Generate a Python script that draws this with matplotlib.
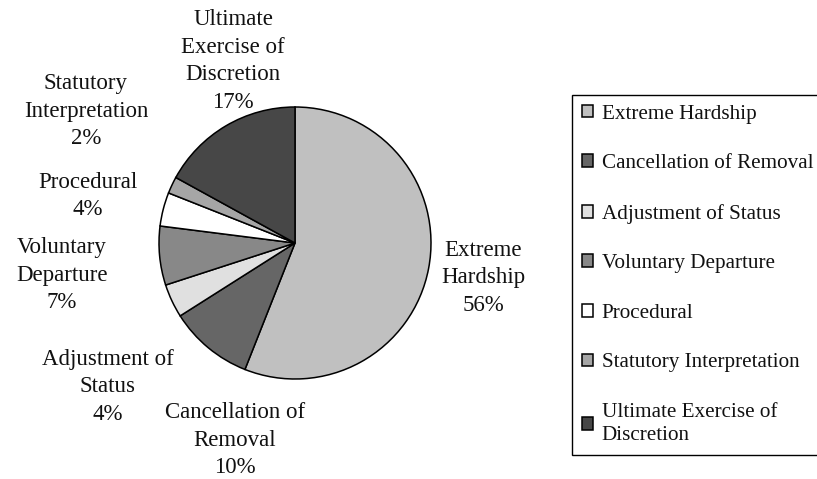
import numpy as np
import matplotlib
matplotlib.use('Agg')
import matplotlib.pyplot as plt

plt.rcParams['font.family'] = ['Liberation Serif', 'DejaVu Serif']

categories = ['Extreme Hardship', 'Cancellation of Removal', 'Adjustment of Status',
              'Voluntary Departure', 'Procedural', 'Statutory Interpretation',
              'Ultimate Exercise of\nDiscretion']
pie_labels = ['Extreme\nHardship', 'Cancellation of\nRemoval', 'Adjustment of\nStatus',
              'Voluntary\nDeparture', 'Procedural', 'Statutory\nInterpretation',
              'Ultimate\nExercise of\nDiscretion']
values = [56, 10, 4, 7, 4, 2, 17]
colors = ['#c0c0c0', '#666666', '#e0e0e0', '#888888', '#ffffff', '#a6a6a6', '#474747']

# label centres in pixels (x from left, y from top)
label_pos = [(483, 278), (235, 440), (108, 387), (62, 275), (88, 196), (86, 111), (233, 61)]

W, H = 817, 479
fig = plt.figure(figsize=(W / 100, H / 100), dpi=100)
ax = fig.add_axes([0, 0, 1, 1])

wedges, _ = ax.pie(values, colors=colors, startangle=90, counterclock=False,
                   center=(295, H - 243), radius=136, frame=True,
                   wedgeprops=dict(edgecolor='black', linewidth=1.1))
ax.set_xlim(0, W)
ax.set_ylim(0, H)
ax.set_aspect('equal', adjustable='datalim')
ax.axis('off')

for lab, v, (px, py) in zip(pie_labels, values, label_pos):
    ax.text(px, H - py, f'{lab}\n{v}%', ha='center', va='center',
            fontsize=16.5, linespacing=1.42, color='#111111')

legend = fig.legend(wedges, categories, loc='upper left',
                    bbox_to_anchor=(572 / W, 1 - 95 / H),
                    frameon=True, fancybox=False, edgecolor='black', framealpha=1,
                    handlelength=0.55, handleheight=0.55, handletextpad=0.4,
                    labelspacing=1.45, borderpad=0.45, borderaxespad=0,
                    prop={'size': 15.2})
legend.get_frame().set_linewidth(1.0)
for t in legend.get_texts():
    t.set_linespacing(1.3)
    t.set_color('#111111')

plt.savefig('out.png', dpi=100)
